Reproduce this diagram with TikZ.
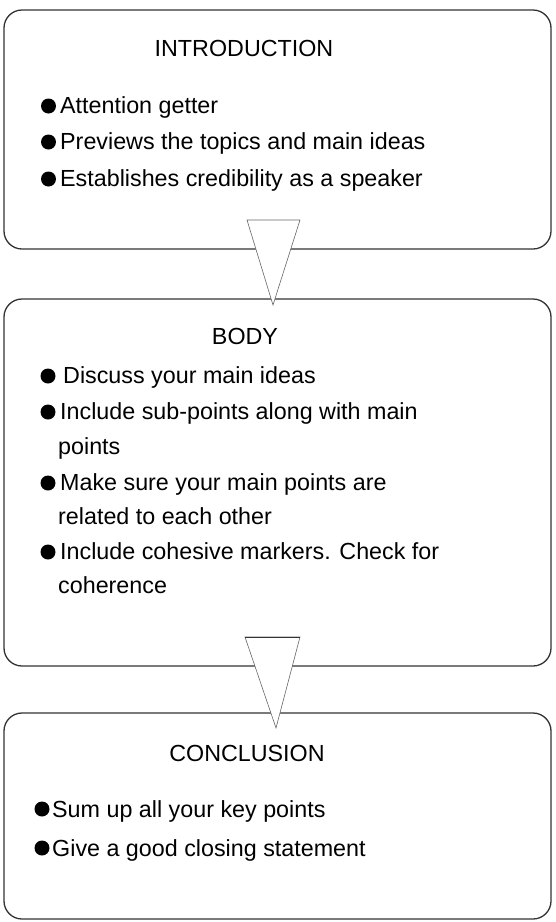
\documentclass[tikz,border=0pt]{standalone}
\usepackage{fontspec}
\setmainfont{Liberation Sans}
\tikzset{
  partbox/.style={draw=black!80, line width=1.3pt, rounded corners=18pt, fill=white, inner sep=0pt},
  linktri/.style={draw=black!60, line width=0.6pt, fill=white},
  head/.style={anchor=base, inner sep=0pt, font=\fontsize{23.3}{28}\selectfont},
  item/.style={anchor=base west, inner sep=0pt, font=\fontsize{23.3}{28}\selectfont},
  blob/.style={circle, fill=black, inner sep=0pt, minimum size=15}
}
\begin{document}
\begin{tikzpicture}[x=1pt,y=-1pt]
  \useasboundingbox (0,0) rectangle (556,922);
  % the three parts
  \node[partbox, minimum width=547, minimum height=239] (intro) at (277.5,129.5) {};
  \node[partbox, minimum width=547, minimum height=367] (body) at (277.5,482.5) {};
  \node[partbox, minimum width=547, minimum height=206] (concl) at (277.5,816) {};
  % links between them
  \draw[linktri] (247,220) coordinate (t1a) -- (300,220) coordinate (t1b) -- (273,305) coordinate (t1c) -- cycle;
  \draw[linktri] (245,637) coordinate (t2a) -- (300,637) coordinate (t2b) -- (276,728) coordinate (t2c) -- cycle;
  \draw[black!80, line width=1pt] (t2a) -- (t2b);
  % introduction
  \node[head] (introhead) at (244,56) {INTRODUCTION};
  \node[blob] (i1d) at (48.5,106) {};
  \node[item] (i1) at (60,113) {Attention getter};
  \node[blob] (i2d) at (48.5,142) {};
  \node[item] (i2) at (60,149) {Previews the topics and main ideas};
  \node[blob] (i3d) at (48.5,179) {};
  \node[item] (i3) at (60,186) {Establishes credibility as a speaker};
  % body
  \node[head] (bodyhead) at (245,344) {BODY};
  \node[blob] (b1d) at (48,376) {};
  \node[item] (b1) at (63,383) {Discuss your main ideas};
  \node[blob] (b2d) at (48,412) {};
  \node[item] (b2) at (60,419) {Include sub-points along with main};
  \node[item] (b3) at (58,454) {points};
  \node[blob] (b4d) at (48,483) {};
  \node[item] (b4) at (60,490) {Make sure your main points are};
  \node[item] (b5) at (58,524) {related to each other};
  \node[blob] (b6d) at (48,552) {};
  \node[item] (b6) at (60,559) {Include cohesive markers. Check for};
  \node[item] (b7) at (58,593) {coherence};
  % conclusion
  \node[head] (conclhead) at (247,761) {CONCLUSION};
  \node[blob] (c1d) at (42,809) {};
  \node[item] (c1) at (52,817) {Sum up all your key points};
  \node[blob] (c2d) at (42,848) {};
  \node[item] (c2) at (52,856) {Give a good closing statement};
\end{tikzpicture}
\end{document}
